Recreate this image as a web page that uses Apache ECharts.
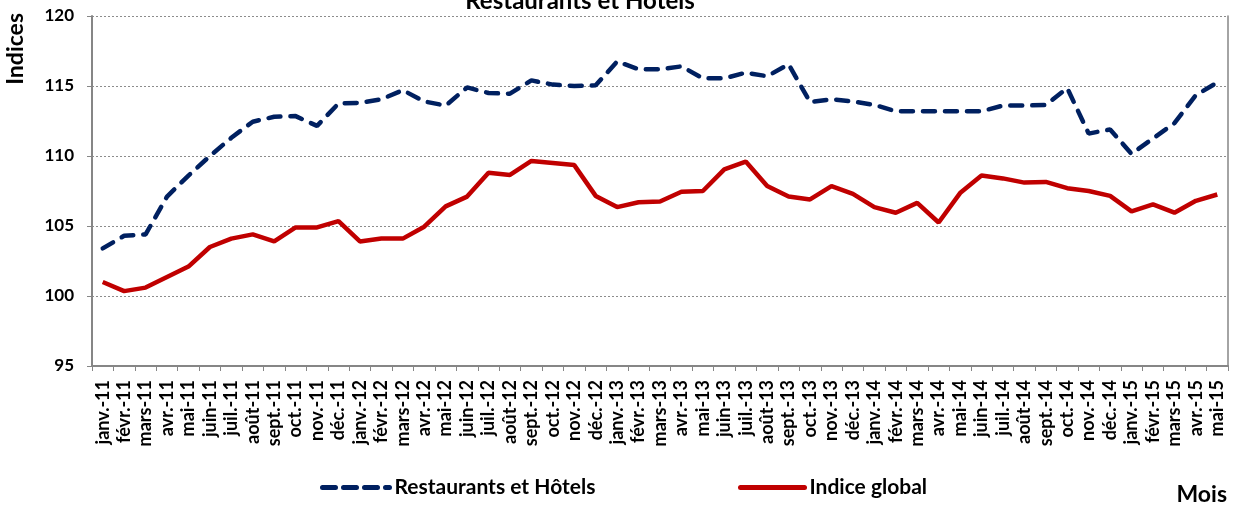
<!DOCTYPE html>
<html><head><meta charset="utf-8">
<script src="https://cdn.jsdelivr.net/npm/echarts@6/dist/echarts.min.js"></script>
<style>html,body{margin:0;padding:0;background:#fff}#c{width:1233px;height:507px}</style>
</head><body><div id="c"></div>
<script>
const months = ["janv.-11","févr.-11","mars-11","avr.-11","mai-11","juin-11","juil.-11","août-11","sept.-11","oct.-11","nov.-11","déc.-11",
"janv.-12","févr.-12","mars-12","avr.-12","mai-12","juin-12","juil.-12","août-12","sept.-12","oct.-12","nov.-12","déc.-12",
"janv.-13","févr.-13","mars-13","avr.-13","mai-13","juin-13","juil.-13","août-13","sept.-13","oct.-13","nov.-13","déc.-13",
"janv.-14","févr.-14","mars-14","avr.-14","mai-14","juin-14","juil.-14","août-14","sept.-14","oct.-14","nov.-14","déc.-14",
"janv.-15","févr.-15","mars-15","avr.-15","mai-15"];
const restaurantsHotels = [103.4,104.3,104.4,107.1,108.6,110.0,111.3,112.45,112.8,112.85,112.15,113.75,
113.8,114.05,114.7,113.9,113.6,114.9,114.5,114.45,115.4,115.1,115.0,115.05,
116.75,116.2,116.2,116.4,115.55,115.55,115.95,115.7,116.55,113.85,114.05,113.9,
113.65,113.2,113.2,113.2,113.2,113.2,113.6,113.6,113.65,114.85,111.6,111.9,
110.15,111.25,112.35,114.35,115.25];
const indiceGlobal = [101.0,100.35,100.6,101.35,102.1,103.5,104.1,104.4,103.9,104.9,104.9,105.35,
103.9,104.1,104.1,104.95,106.4,107.1,108.8,108.65,109.65,109.5,109.35,107.15,
106.35,106.7,106.75,107.45,107.5,109.05,109.6,107.85,107.1,106.9,107.85,107.3,
106.35,105.95,106.65,105.25,107.35,108.6,108.4,108.1,108.15,107.7,107.5,107.15,
106.05,106.55,105.95,106.8,107.25];
const yTicks = {min:95, max:120, interval:5};
const FONT = 'Lato';
const chart = echarts.init(document.getElementById('c'));
chart.setOption({
  animation:false,
  textStyle:{fontFamily:FONT},
  title:{text:'Restaurants et Hôtels', left:575, top:-16, textAlign:'center',
    textStyle:{fontFamily:FONT,fontWeight:'bold',fontSize:24,color:'#000'}},
  grid:{left:92,right:5,top:16,bottom:141,containLabel:false},
  xAxis:{type:'category',data:months,boundaryGap:true,
    axisLine:{lineStyle:{color:'#868686',width:2}},
    axisTick:{show:true,length:5,lineStyle:{color:'#868686',width:1},interval:0},
    axisLabel:{interval:0,rotate:90,margin:14,fontFamily:FONT,fontWeight:'bold',fontSize:18,color:'#000'},
    splitLine:{show:false}},
  yAxis:[{type:'value',min:yTicks.min,max:yTicks.max,interval:yTicks.interval,
    axisLine:{show:true,lineStyle:{color:'#868686',width:2}},
    axisTick:{show:true,length:5,lineStyle:{color:'#868686'}},
    axisLabel:{margin:18,fontFamily:FONT,fontWeight:'bold',fontSize:17,color:'#000'},
    splitLine:{show:true,lineStyle:{color:'#8c8c8c',type:[2,2],width:1}}},
   {type:'value',min:yTicks.min,max:yTicks.max,interval:yTicks.interval,position:'right',
    axisLine:{show:true,lineStyle:{color:'#868686',width:1.5}},axisTick:{show:false},axisLabel:{show:false},splitLine:{show:false}}],
  legend:[{data:['Restaurants et Hôtels'],left:315,top:472,itemWidth:67,itemHeight:14,itemGap:6,
     itemStyle:{opacity:0},
     lineStyle:{width:5,type:[13,8],cap:'round',color:'#002060'},
     textStyle:{fontFamily:FONT,fontWeight:'bold',fontSize:21,color:'#000'}},
    {data:['Indice global'],left:733,top:472,itemWidth:64,itemHeight:14,
     itemStyle:{opacity:0},
     lineStyle:{width:5,color:'#C00000',cap:'round'},
     textStyle:{fontFamily:FONT,fontWeight:'bold',fontSize:21,color:'#000'}}],
  graphic:[
    {type:'text',left:4,top:13,rotation:Math.PI/2,style:{text:'Indices',fontFamily:FONT,fontWeight:'bold',fontSize:23,fill:'#000'}},
    {type:'text',right:6,top:483,style:{text:'Mois',fontFamily:FONT,fontWeight:'bold',fontSize:23,fill:'#000'}}
  ],
  series:[
    {name:'Restaurants et Hôtels',type:'line',data:restaurantsHotels,symbol:'none',
     lineStyle:{color:'#002060',width:4.5,type:[12,10],cap:'round'},itemStyle:{color:'#002060'}},
    {name:'Indice global',type:'line',data:indiceGlobal,symbol:'none',
     lineStyle:{color:'#C00000',width:4.5,type:'solid'},itemStyle:{color:'#C00000'}}
  ]
});
</script></body></html>
